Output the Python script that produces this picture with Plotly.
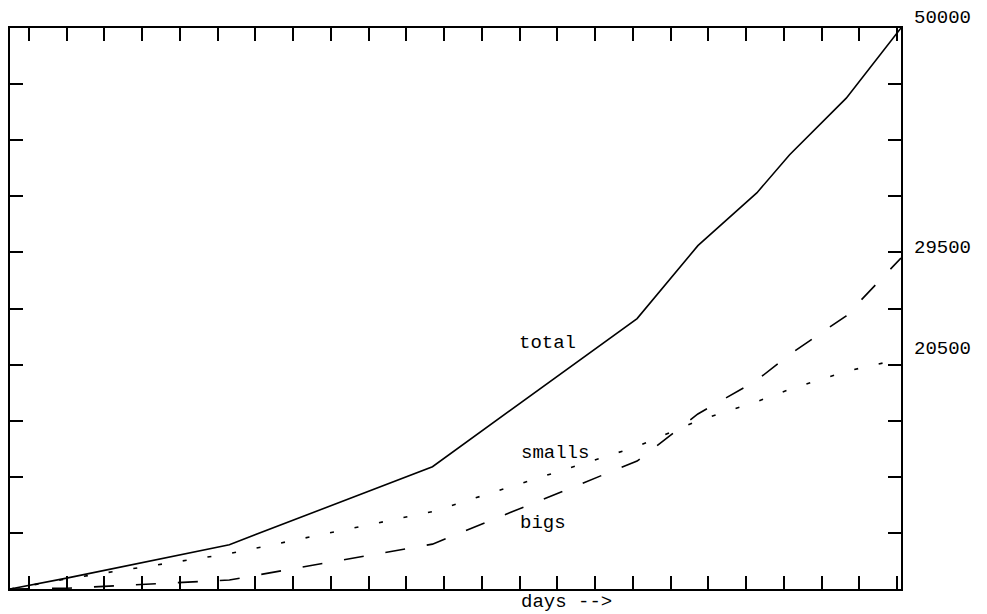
import plotly.graph_objects as go

# days (tick-based units) and counts
days = [0.5, 2.0, 6.31, 11.69, 17.11, 18.72, 20.28, 21.15, 22.65, 24.1]
total = [0, 970, 3950, 10900, 24100, 30600, 35300, 38700, 43750, 50000]
smalls = [0, 900, 3150, 6900, 12700, 15000, 16700, 17800, 19400, 20500]
bigs = [0, 70, 800, 4000, 11400, 15600, 18600, 20900, 24350, 29500]

end_labels = ["50000", "29500", "20500"]
end_values = [50000, 29500, 20500]

x_ticks = list(range(1, 25))
y_ticks = list(range(0, 50001, 5000))

mono = "Courier New, Liberation Mono, monospace"

fig = go.Figure()
fig.add_trace(go.Scatter(x=days, y=total, mode="lines", name="total",
                         line=dict(color="black", width=1.6)))
fig.add_trace(go.Scatter(x=days, y=smalls, mode="lines", name="smalls",
                         line=dict(color="black", width=1.6, dash="4px,21px")))
fig.add_trace(go.Scatter(x=days, y=bigs, mode="lines", name="bigs",
                         line=dict(color="black", width=1.6, dash="20px,22px")))

annotations = []
for lab, val in zip(end_labels, end_values):
    annotations.append(dict(x=1, xref="paper", y=val, yref="y", text=lab,
                            showarrow=False, xanchor="left", yanchor="middle",
                            xshift=12, yshift=10, borderpad=0,
                            font=dict(family="Liberation Mono", size=19, color="black")))
for txt, xp, yp in [("total", 0.5687, 0.439), ("smalls", 0.571, 0.2425),
                    ("bigs", 0.5698, 0.1168), ("days -->", 0.571, -0.023)]:
    annotations.append(dict(x=xp, xref="paper", y=yp, yref="paper", text=txt,
                            showarrow=False, xanchor="left", yanchor="middle",
                            font=dict(family=mono, size=19, color="black")))

fig.update_layout(
    width=979, height=606,
    margin=dict(l=2, r=86, t=20, b=25),
    paper_bgcolor="white", plot_bgcolor="white",
    showlegend=False,
    annotations=annotations,
    xaxis=dict(range=[0.5, 24.1], tickvals=x_ticks, ticks="inside", ticklen=13,
               tickwidth=1.5, tickcolor="black", showticklabels=False,
               showline=True, linecolor="black", linewidth=2, mirror="allticks",
               showgrid=False, zeroline=False),
    yaxis=dict(range=[0, 50000], tickvals=y_ticks, ticks="inside", ticklen=13,
               tickwidth=1.5, tickcolor="black", showticklabels=False,
               showline=True, linecolor="black", linewidth=2, mirror="allticks",
               showgrid=False, zeroline=False),
)

fig.write_html("out.html")
